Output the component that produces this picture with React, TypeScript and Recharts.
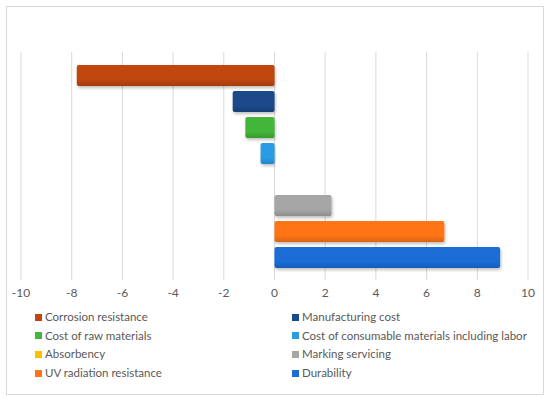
import { BarChart, Bar, XAxis, YAxis, CartesianGrid } from 'recharts'

const seriesNames = [
  'Corrosion resistance',
  'Manufacturing cost',
  'Cost of raw materials',
  'Cost of consumable materials including labor',
  'Absorbency',
  'Marking servicing',
  'UV radiation resistance',
  'Durability',
]
const seriesValues = [-7.8, -1.65, -1.15, -0.55, 0, 2.25, 6.7, 8.9]
const seriesColors = ['#c0460e', '#1b4a8a', '#43b53a', '#2a9ce6', '#ffc000', '#a6a6a6', '#ff7417', '#1a6cd6']
const xTicks = [-10, -8, -6, -4, -2, 0, 2, 4, 6, 8, 10]

const FONT = 'Lato, "Open Sans", sans-serif'
const TEXT = '#595959'

const keys = seriesNames.map((_, i) => `s${i}`)
const row: Record<string, number | string> = { name: 'all' }
keys.forEach((k, i) => {
  row[k] = seriesValues[i]
})
const data = [row]

function darken(hex: string, f: number) {
  const n = parseInt(hex.slice(1), 16)
  const r = Math.round(((n >> 16) & 255) * f)
  const g = Math.round(((n >> 8) & 255) * f)
  const b = Math.round((n & 255) * f)
  return `rgb(${r},${g},${b})`
}

export default function App() {
  return (
    <div style={{ position: 'fixed', left: 0, top: 0, width: 550, height: 401, background: '#fff', fontFamily: FONT }}>
      {/* chart frame */}
      <div
        style={{
          position: 'absolute',
          left: 6,
          top: 6,
          width: 536,
          height: 387,
          border: '1px solid #d9d9d9',
        }}
      />
      <div style={{ position: 'absolute', left: 0, top: 0 }}>
        <BarChart
          width={550}
          height={401}
          data={data}
          layout="vertical"
          margin={{ top: 52, right: 22, left: 21, bottom: 91 }}
          barGap={5}
          barSize={21}
        >
          <defs>
            {seriesColors.map((c, i) => (
              <linearGradient key={i} id={`g${i}`} x1="0" y1="0" x2="0" y2="1">
                <stop offset="0%" stopColor={c} />
                <stop offset="70%" stopColor={c} />
                <stop offset="100%" stopColor={darken(c, 0.85)} />
              </linearGradient>
            ))}
            <filter id="shadow" x="-10%" y="-30%" width="120%" height="170%">
              <feDropShadow dx="1" dy="2" stdDeviation="1.5" floodColor="#000" floodOpacity="0.25" />
            </filter>
          </defs>
          <CartesianGrid horizontal={false} stroke="#d9d9d9" />
          <XAxis
            type="number"
            domain={[-10, 10]}
            ticks={xTicks}
            axisLine={false}
            tickLine={false}
            height={30}
            tick={{ fill: TEXT, fontSize: 12, fontFamily: FONT }}
          />
          <YAxis type="category" dataKey="name" hide />
          {keys.map((k, i) => (
            <Bar
              key={k}
              dataKey={k}
              name={seriesNames[i]}
              fill={`url(#g${i})`}
              radius={2}
              filter="url(#shadow)"
              isAnimationActive={false}
            />
          ))}
        </BarChart>
      </div>
      {/* legend */}
      <div
        style={{
          position: 'absolute',
          left: 35,
          top: 309,
          width: 510,
          display: 'grid',
          gridTemplateColumns: '257px 253px',
          rowGap: 2.7,
          fontSize: 11.5,
          color: TEXT,
          lineHeight: '16px',
        }}
      >
        {seriesNames.map((n, i) => (
          <div key={n} style={{ display: 'flex', alignItems: 'center', whiteSpace: 'nowrap' }}>
            <span style={{ width: 7, height: 7, background: seriesColors[i], marginRight: 3, display: 'inline-block' }} />
            {n}
          </div>
        ))}
      </div>
    </div>
  )
}
